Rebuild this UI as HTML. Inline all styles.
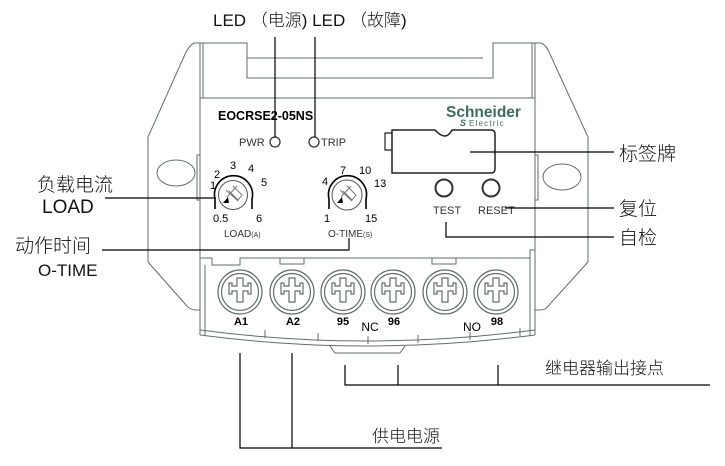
<!DOCTYPE html>
<html><head><meta charset="utf-8"><style>
html,body{margin:0;padding:0;background:#fff;width:725px;height:466px;overflow:hidden}
svg{display:block}
.o{fill:none;stroke:#5f6f6c;stroke-width:1}
.l{fill:none;stroke:#000;stroke-width:1.2}
.cn{font-family:"Liberation Sans","Noto Sans CJK SC",sans-serif;fill:#111;font-weight:300}
.a{font-family:"Liberation Sans",sans-serif;fill:#000}
</style></head><body>
<svg width="725" height="466" viewBox="0 0 725 466" xmlns="http://www.w3.org/2000/svg">
<!-- wings -->
<path class="o" d="M200,43 L194,43 Q190,45 186,52 L148,137 L148,262 L186,305 Q190,310 196,310 L200,310"/>
<ellipse class="o" cx="176" cy="173" rx="19" ry="13"/>
<path class="o" d="M535,43 L541,43 Q546,45 549,52 L588,137 L588,262 L549,305 Q546,310 540,310 L535,310"/>
<ellipse class="o" cx="562" cy="177" rx="19" ry="13"/>
<rect class="o" x="197" y="155" width="3" height="45"/>
<rect class="o" x="535" y="155" width="3" height="45"/>
<!-- body -->
<path class="o" d="M200,43 L200,335"/>
<path class="o" d="M203,43 L203,98"/>
<path class="o" d="M535,43 L535,335"/>
<path class="o" d="M532,43 L532,98"/>
<path class="o" d="M200,43 L247,43 L247,78 L493,78 L493,43 L535,43"/>
<path class="o" d="M247,58 L483,58"/>
<path class="o" d="M200,98 L535,98"/>
<!-- texts -->
<text class="a" x="218" y="120" font-size="12.5" font-weight="bold">EOCRSE2-05NS</text>
<text x="446" y="117" font-family="Liberation Sans,sans-serif" font-size="15.5" font-weight="bold" fill="#3d6b60">Schneider</text>
<text x="469" y="126" font-family="Liberation Sans,sans-serif" font-size="8" fill="#3d6b60" letter-spacing="1.2">Electric</text>
<text x="460" y="126" font-family="Liberation Sans,sans-serif" font-size="9" font-weight="bold" font-style="italic" fill="#3d6b60">S</text>
<text x="239" y="146" font-family="Liberation Sans,sans-serif" font-size="11" fill="#333">PWR</text>
<circle cx="275" cy="142" r="5" fill="none" stroke="#333" stroke-width="1.3"/>
<circle cx="314" cy="142" r="5" fill="none" stroke="#333" stroke-width="1.3"/>
<text x="321" y="146" font-family="Liberation Sans,sans-serif" font-size="11" fill="#333">TRIP</text>
<!-- label plate -->
<path d="M392,133 L385,133 L385,150 L392,150" fill="none" stroke="#222" stroke-width="1.2"/>
<path d="M392,130 L435,130 Q446,142 452,130 L491,130 Q495,130 495,134 L495,169 Q495,173 491,173 L392,173 Z" fill="none" stroke="#222" stroke-width="1.5"/>
<circle cx="444" cy="188" r="8.5" fill="none" stroke="#333" stroke-width="2"/>
<circle cx="491" cy="188" r="8.5" fill="none" stroke="#333" stroke-width="2"/>
<text x="433" y="214" font-family="Liberation Sans,sans-serif" font-size="11" fill="#333">TEST</text>
<text x="478" y="214" font-family="Liberation Sans,sans-serif" font-size="11" fill="#333">RESET</text>
<!-- dials -->
<g font-family="Liberation Sans,sans-serif" font-size="11" fill="#000">
<circle cx="233" cy="195" r="14.5" fill="none" stroke="#555" stroke-width="1"/>
<path d="M215,209 L215,199 A19,19 0 1 1 252,199 L252,209" fill="none" stroke="#000" stroke-width="1.6"/>
<path d="M226,190 L238,201 M233,186 L242,195 L238,200 L229,191 M237,186 L227,197" fill="none" stroke="#777" stroke-width="1"/>
<path d="M223,203 L228,197 L229,203 Z" fill="#000"/>
<text x="213" y="222">0.5</text><text x="256" y="222">6</text>
<text x="210" y="189">1</text><text x="214" y="178">2</text><text x="230" y="169">3</text><text x="248" y="172">4</text><text x="261" y="186">5</text>
<text x="224" y="237" font-size="10" fill="#333">LOAD<tspan font-size="7">(A)</tspan></text>
<circle cx="347" cy="195" r="15" fill="none" stroke="#555" stroke-width="1"/>
<path d="M329,209 L329,199 A19,19 0 1 1 366,199 L366,209" fill="none" stroke="#000" stroke-width="1.6"/>
<path d="M340,190 L352,201 M347,186 L356,195 L352,200 L343,191 M351,186 L341,197" fill="none" stroke="#777" stroke-width="1"/>
<path d="M337,203 L342,197 L343,203 Z" fill="#000"/>
<text x="324" y="222">1</text><text x="365" y="222">15</text>
<text x="322" y="185">4</text><text x="340" y="174">7</text><text x="359" y="174">10</text><text x="374" y="187">13</text>
<text x="328" y="237" font-size="10" fill="#333">O-TIME<tspan font-size="7">(S)</tspan></text>
</g>
<!-- terminal block -->
<path class="o" d="M200,258 L212,258 L212,265 L240,265 L240,258 L530,258 L530,250 L535,250"/>
<rect class="o" x="280" y="258" width="24" height="6"/>
<rect class="o" x="432" y="258" width="24" height="6"/>
<path class="o" d="M205,265 L205,335"/>
<path class="o" d="M530,258 L530,335"/>
<path class="o" d="M200,330 Q367,352 535,330"/>
<path class="o" d="M200,335 Q367,357 535,335"/>
<path class="o" d="M330,346 L335,353 L400,353 L405,346"/>
<g class="o">
<path d="M265,330 v8 M318,333 v8 M368,336 v8 M418,335 v8 M470,332 v8 M520,328 v8"/>
</g>
<g fill="none" stroke="#5f6f6c" stroke-width="1.2">
<g transform="translate(240,292)"><circle r="22"/><circle r="18.5"/><path d="M-3,-14 h6 v8 h5 v-3 h3 v11 h-3 v-3 h-5 v11 h-6 v-11 h-5 v3 h-3 v-11 h3 v3 h5 z"/></g>
<g transform="translate(292,292)"><circle r="22"/><circle r="18.5"/><path d="M-3,-14 h6 v8 h5 v-3 h3 v11 h-3 v-3 h-5 v11 h-6 v-11 h-5 v3 h-3 v-11 h3 v3 h5 z"/></g>
<g transform="translate(343,292)"><circle r="22"/><circle r="18.5"/><path d="M-3,-14 h6 v8 h5 v-3 h3 v11 h-3 v-3 h-5 v11 h-6 v-11 h-5 v3 h-3 v-11 h3 v3 h5 z"/></g>
<g transform="translate(393,292)"><circle r="22"/><circle r="18.5"/><path d="M-3,-14 h6 v8 h5 v-3 h3 v11 h-3 v-3 h-5 v11 h-6 v-11 h-5 v3 h-3 v-11 h3 v3 h5 z"/></g>
<g transform="translate(445,292)"><circle r="22"/><circle r="18.5"/><path d="M-3,-14 h6 v8 h5 v-3 h3 v11 h-3 v-3 h-5 v11 h-6 v-11 h-5 v3 h-3 v-11 h3 v3 h5 z"/></g>
<g transform="translate(496,292)"><circle r="22"/><circle r="18.5"/><path d="M-3,-14 h6 v8 h5 v-3 h3 v11 h-3 v-3 h-5 v11 h-6 v-11 h-5 v3 h-3 v-11 h3 v3 h5 z"/></g>
</g>
<g font-family="Liberation Sans,sans-serif" font-size="11" font-weight="bold" fill="#000" text-anchor="middle">
<text x="241" y="325">A1</text><text x="293" y="325">A2</text><text x="343" y="325">95</text>
<text x="370" y="331" font-weight="normal" font-size="12">NC</text><text x="394" y="325">96</text>
<text x="472" y="331" font-weight="normal" font-size="12">NO</text><text x="497" y="325">98</text>
</g>
<!-- leaders -->
<path class="l" d="M275,37 V137 M315,37 V137"/>
<path class="l" d="M105,198 H216"/>
<path class="l" d="M102,250 H349 V238"/>
<path class="l" d="M470,152 H614"/>
<path class="l" d="M505,208 H614"/>
<path class="l" d="M446,222 V237 H614"/>
<path class="l" d="M240,353 V448 H442 M292,353 V448"/>
<path class="l" d="M345,365 V385 H710 M398,365 V385 M498,365 V385"/>
<!-- labels -->
<g class="cn" font-size="17">
<text x="213" y="26">LED （电源) LED （故障)</text>
</g>
<g class="cn" font-size="19">
<text x="37" y="191">负载电流</text>
<text x="42" y="213">LOAD</text>
<text x="15" y="252">动作时间</text>
<text x="38" y="276" font-size="17">O-TIME</text>
<text x="619" y="160">标签牌</text>
<text x="619" y="215">复位</text>
<text x="619" y="244">自检</text>
<text x="545" y="374" font-size="17">继电器输出接点</text>
<text x="372" y="442" font-size="17">供电电源</text>
</g>
</svg>
</body></html>
